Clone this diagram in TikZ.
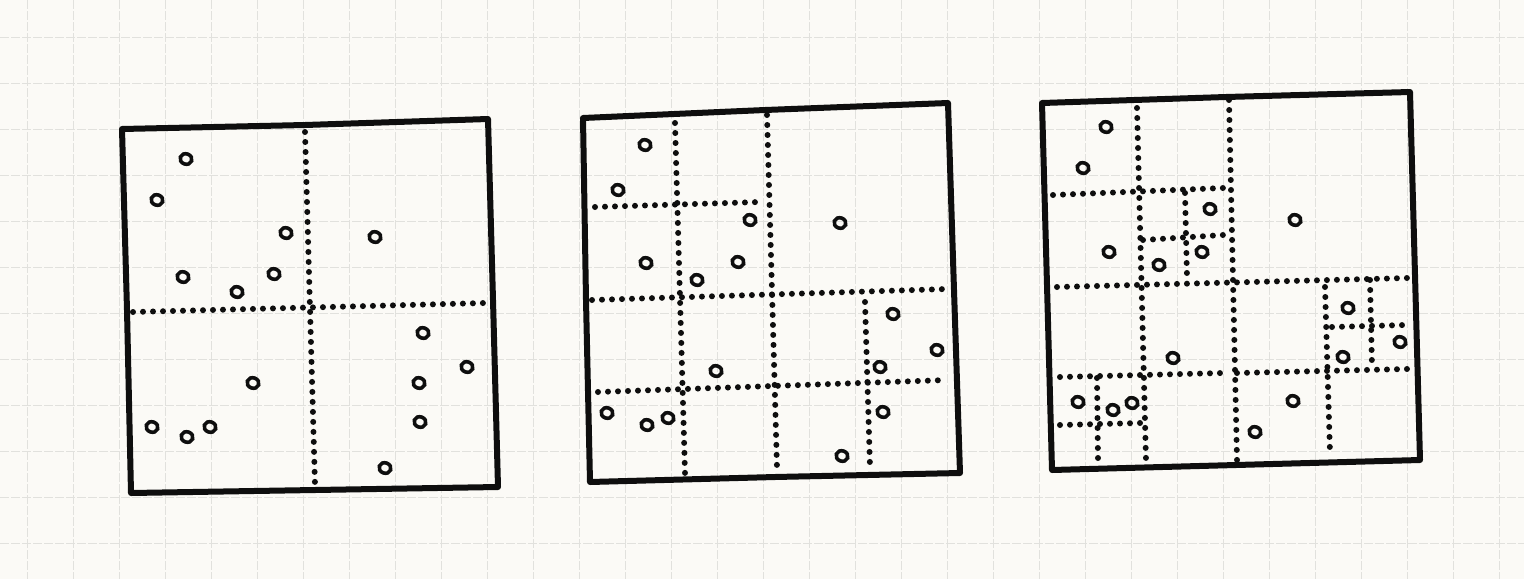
\documentclass[tikz,border=0pt]{standalone}
\usetikzlibrary{calc}
\definecolor{paper}{HTML}{FBFAF6}
\definecolor{gridc}{HTML}{E1E1DD}
\definecolor{ink}{HTML}{0E0E0E}
\tikzset{
  gridline/.style={draw=gridc, line width=1pt, dash pattern=on 9pt off 2pt},
  frame/.style={draw=ink, line width=6pt, line join=round, line cap=round},
  dotline/.style={draw=ink, line width=6pt, line cap=round, dash pattern=on 0pt off 10pt},
  pt/.style={draw=ink, line width=3.6pt},
}
\newcommand{\pts}[1]{\foreach \px/\py in {#1} {\draw[pt, rotate around={-20:(\px,\py)}] (\px,\py) ellipse [x radius=6, y radius=5.2];}}
\begin{document}
\begin{tikzpicture}[x=1pt,y=-1pt]
\useasboundingbox (0,0) rectangle (1524,579);
\fill[paper] (0,0) rectangle (1524,579);
% graph paper
\foreach \x in {27,73,...,1520} {\draw[gridline] (\x,0) -- (\x,579);}
\foreach \y in {37,83,...,579} {\draw[gridline] (0,\y) -- (1524,\y);}

% ---------- square 1 ----------
\draw[frame] (122,129) -- (305,125) -- (488,119) -- (493,300) -- (498,487) -- (315,490) -- (131,493) -- (127,310) -- cycle;
\draw[dotline] (305,132) -- (315,485);
\draw[dotline] (133,312) -- (485,303);
\pts{186/159,157/200,286/233,375/237,183/277,274/274,237/292,423/333,467/367,253/383,419/383,152/427,187/437,210/427,420/422,385/468}

% ---------- square 2 ----------
\draw[frame] (583,118) -- (765,110) -- (948,103) -- (954,290) -- (960,473) -- (775,477) -- (590,482) -- (586,300) -- cycle;
\draw[dotline] (675,123) -- (685,473);
\draw[dotline] (767,115) -- (777,468);
\draw[dotline] (595,207) -- (760,202);
\draw[dotline] (592,300) -- (947,289);
\draw[dotline] (598,392) -- (947,380);
\draw[dotline] (865,302) -- (870,467);
\pts{645/145,618/190,750/220,840/223,646/263,738/262,697/280,893/314,937/350,716/371,880/367,607/413,647/425,668/418,883/412,842/456}

% ---------- square 3 ----------
\draw[frame] (1042,103) -- (1226,97) -- (1410,92) -- (1415,275) -- (1420,460) -- (1236,465) -- (1052,470) -- (1047,285) -- cycle;
\draw[dotline] (1229,100) -- (1237,460);
\draw[dotline] (1057,287) -- (1407,278);
\draw[dotline] (1137,108) -- (1146,460);
\draw[dotline] (1053,195) -- (1223,188);
\draw[dotline] (1185,193) -- (1187,277);
\draw[dotline] (1143,240) -- (1223,235);
\draw[dotline] (1060,377) -- (1223,373);
\draw[dotline] (1097,378) -- (1098,460);
\draw[dotline] (1060,425) -- (1140,423);
\draw[dotline] (1237,373) -- (1407,369);
\draw[dotline] (1325,287) -- (1330,453);
\draw[dotline] (1370,280) -- (1372,367);
\draw[dotline] (1332,327) -- (1405,325);
\pts{1106/127,1083/168,1210/209,1295/220,1109/252,1159/265,1202/252,1348/308,1400/342,1173/358,1343/357,1078/402,1113/410,1132/403,1293/401,1255/432}
\end{tikzpicture}
\end{document}
